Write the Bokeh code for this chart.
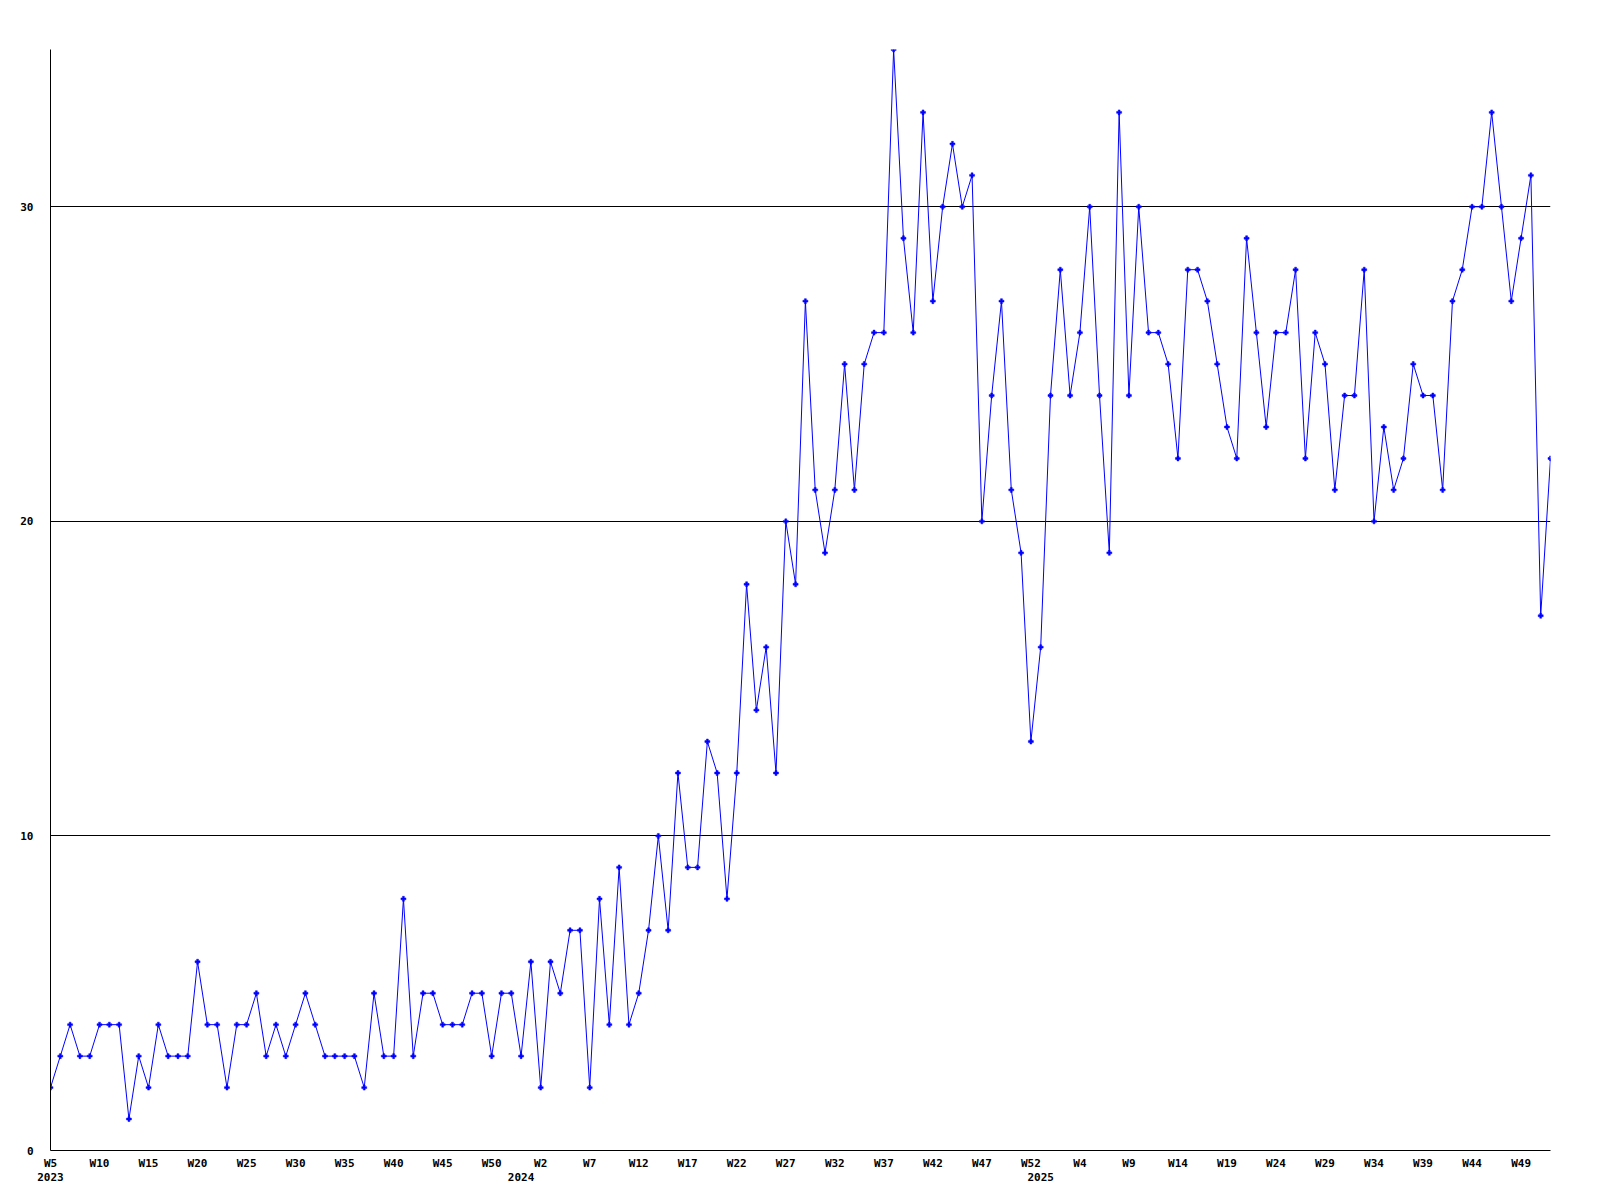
from bokeh.plotting import figure
from bokeh.models import Range1d, FixedTicker, LinearAxis
from bokeh.embed import file_html
from bokeh.resources import INLINE

# weekly values, 2023 W5 .. 2025 W52
values = [
    2, 3, 4, 3, 3, 4, 4, 4, 1, 3, 2, 4, 3, 3, 3, 6, 4, 4, 2, 4,
    4, 5, 3, 4, 3, 4, 5, 4, 3, 3, 3, 3, 2, 5, 3, 3, 8, 3, 5, 5,
    4, 4, 4, 5, 5, 3, 5, 5, 3, 6, 2, 6, 5, 7, 7, 2, 8, 4, 9, 4,
    5, 7, 10, 7, 12, 9, 9, 13, 12, 8, 12, 18, 14, 16, 12, 20, 18, 27, 21, 19,
    21, 25, 21, 25, 26, 26, 35, 29, 26, 33, 27, 30, 32, 30, 31, 20, 24, 27, 21, 19,
    13, 16, 24, 28, 24, 26, 30, 24, 19, 33, 24, 30, 26, 26, 25, 22, 28, 28, 27, 25,
    23, 22, 29, 26, 23, 26, 26, 28, 22, 26, 25, 21, 24, 24, 28, 20, 23, 21, 22, 25,
    24, 24, 21, 27, 28, 30, 30, 33, 30, 27, 29, 31, 17, 22,
]
x = list(range(len(values)))

tick_positions = list(range(0, 154, 5))
tick_labels = [
    "W5", "W10", "W15", "W20", "W25", "W30", "W35", "W40", "W45", "W50",
    "W2", "W7", "W12", "W17", "W22", "W27", "W32", "W37", "W42", "W47", "W52",
    "W4", "W9", "W14", "W19", "W24", "W29", "W34", "W39", "W44", "W49",
]
year_positions = [0, 48, 101]
year_labels = ["2023", "2024", "2025"]
y_ticks = [0, 10, 20, 30]

FONT = "DejaVu Sans Mono"

p = figure(
    output_backend="svg", toolbar_location=None,
    frame_width=1500, frame_height=1101,
    min_border_left=50, min_border_top=49, min_border_right=34, min_border_bottom=40,
    x_range=Range1d(0, len(values) - 1), y_range=Range1d(0, 35),
    background_fill_color="white", border_fill_color="white",
)
p.outline_line_color = None

p.line(x, values, line_color="#0000ff", line_width=1)
p.scatter(x, values, marker="plus", size=5, fill_color="#0000ff", line_color="#0000ff", line_width=0.5)

# grids
p.xgrid.visible = False
p.ygrid.ticker = FixedTicker(ticks=y_ticks)
p.ygrid.grid_line_color = "black"
p.ygrid.grid_line_width = 1

# x axis (weeks)
xa = p.xaxis[0]
xa.ticker = FixedTicker(ticks=tick_positions)
xa.major_label_overrides = {pos: lab for pos, lab in zip(tick_positions, tick_labels)}
xa.axis_line_color = "black"
xa.major_tick_in = 0
xa.major_tick_out = 0
xa.minor_tick_line_color = None
xa.major_label_standoff = 6
xa.major_label_text_font = FONT
xa.major_label_text_font_style = "bold"
xa.major_label_text_font_size = "11px"
xa.major_label_text_color = "black"

# year axis
ya2 = LinearAxis(ticker=FixedTicker(ticks=year_positions))
ya2.major_label_overrides = {pos: lab for pos, lab in zip(year_positions, year_labels)}
ya2.axis_line_color = None
ya2.major_tick_in = 0
ya2.major_tick_out = 0
ya2.minor_tick_line_color = None
ya2.major_label_standoff = 0
ya2.major_label_text_font = FONT
ya2.major_label_text_font_style = "bold"
ya2.major_label_text_font_size = "11px"
ya2.major_label_text_color = "black"
p.add_layout(ya2, "below")

# y axis
ya = p.yaxis[0]
ya.ticker = FixedTicker(ticks=y_ticks)
ya.axis_line_color = "black"
ya.major_tick_in = 0
ya.major_tick_out = 0
ya.minor_tick_line_color = None
ya.major_label_standoff = 17
ya.major_label_text_font = FONT
ya.major_label_text_font_style = "bold"
ya.major_label_text_font_size = "11px"
ya.major_label_text_color = "black"

open("out.html", "w").write(file_html(p, INLINE))
